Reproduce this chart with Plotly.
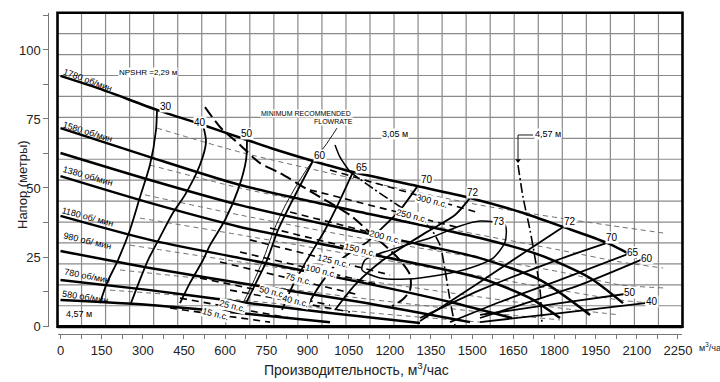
import plotly.graph_objects as go

# ---------------- data: flow (m3/h) and head (m) ----------------
# pump head curves (speeds)
q_1780 = [0, 143.9, 351.6, 519.3, 679.6, 799.9, 920.1, 1065.9, 1299.1, 1492.3, 1674.5, 1831.2, 1991.6, 2100.9]
h_1780 = [90.6, 85.9, 78.3, 72.8, 67.4, 63.4, 59.8, 55.8, 50.7, 46.4, 41.3, 35.9, 30.1, 24.6]
q_1580 = [0, 326.1, 654.1, 1091.4, 1528.6, 1747.2, 1929.4, 2049.7]
h_1580 = [71.7, 61.2, 51.1, 41.3, 31.9, 25.7, 17.4, 8.3]
q_1480 = [0, 326.1, 654.1, 1091.4, 1528.6, 1747.2, 1929.4]
h_1480 = [62.7, 52.9, 43.8, 34.1, 24.6, 16.7, 4.0]
q_1380 = [0, 326.1, 654.1, 1091.4, 1528.6, 1710.8, 1820.1]
h_1380 = [54.3, 44.6, 35.9, 26.8, 17.4, 10.1, 2.9]
q_1180 = [0, 326.1, 654.1, 1091.4, 1419.3, 1645.2]
h_1180 = [39.9, 31.2, 24.6, 15.9, 8.7, 2.9]
q_980 = [0, 326.1, 654.1, 1091.4, 1492.3]
h_980 = [27.2, 21.0, 15.6, 8.7, 1.4]
q_780 = [0, 326.1, 654.1, 982.1, 1310.1]
h_780 = [16.7, 13.0, 8.7, 4.7, 1.1]
q_580 = [0, 326.1, 654.1, 982.1]
h_580 = [9.4, 7.6, 4.7, 1.4]

speed_labels = ["1780 об/мин", "1580 об/мин", "1380 об/мин", "1180 об/ мин",
                "980 об/ мин", "780 об/мин", "580 об/мин", "4,57 м"]
speed_lab_q = [98, 100, 100, 100, 100, 97, 89, 67]
speed_lab_h = [89.1, 70.3, 54.2, 39.5, 30.8, 18.1, 10.5, 4.3]
speed_lab_ang = [20, 17, 16, 15, 13, 11, 9, 0]

# efficiency curves, left branches (label at top end)
eff_left_names = ["30", "40", "50", "60", "65", "70", "72"]
eff_left_q = [
    [351.6, 348.0, 326.1, 289.7, 253.2, 209.5, 169.4, 143.9],
    [519.3, 530.2, 508.3, 453.7, 410.0, 362.6, 318.9, 286.1, 256.9],
    [679.6, 676.0, 646.8, 599.5, 544.8, 519.3, 471.9, 435.5],
    [920.1, 883.7, 836.3, 792.6, 752.5, 708.8, 672.3],
    [1065.9, 1018.5, 963.8, 898.3, 847.3, 807.2],
    [1299.1, 1237.1, 1164.3, 1116.9, 1018.5, 945.6, 890.9],
    [1492.3, 1437.6, 1335.6, 1175.2, 1073.2, 1000.3],
]
eff_left_h = [
    [78.3, 71.0, 58.4, 46.7, 34.8, 23.9, 15.6, 8.3],
    [72.8, 66.7, 58.4, 47.5, 41.0, 32.2, 23.9, 15.9, 8.3],
    [67.4, 60.1, 49.3, 38.4, 29.3, 23.9, 15.6, 8.3],
    [59.8, 52.9, 43.8, 34.8, 23.9, 14.9, 7.6],
    [55.8, 45.6, 34.8, 23.9, 14.9, 5.8],
    [50.4, 42.0, 34.8, 30.4, 23.9, 14.9, 5.8],
    [46.4, 40.2, 34.1, 23.9, 14.9, 5.8],
]
eff_left_lab_q = [384.4, 508.3, 679.6, 945.6, 1098.7, 1335.6, 1503.2]
eff_left_lab_h = [79.7, 73.9, 69.9, 61.6, 57.6, 52.9, 48.5]

# efficiency curves, right branches
eff_right_names = ["72", "70", "65", "60", "50", "40"]
eff_right_q = [
    [1831.2, 1648.9, 1528.6, 1382.9, 1310.1],
    [1991.6, 1809.4, 1528.6, 1310.1],
    [2086.4, 1820.1, 1601.4, 1419.3],
    [2130.1, 1893.3, 1674.5, 1528.6],
    [2057.4, 1820.1, 1528.6],
    [2130.1, 1820.1, 1528.6],
]
eff_right_h = [
    [35.9, 23.9, 15.9, 6.5, 1.8],
    [30.1, 23.9, 13.0, 2.9],
    [26.8, 16.7, 8.7, 1.4],
    [24.6, 14.9, 7.6, 2.9],
    [11.6, 8.3, 4.0],
    [8.3, 4.7, 1.4],
]
eff_right_lab_q = [1856.6, 2009.7, 2086.4, 2137.4, 2075.4, 2155.6]
eff_right_lab_h = [38.0, 32.2, 26.8, 24.6, 12.3, 8.7]

# 73 % island
q_73 = [1528.6, 1619.8, 1619.8, 1576.0, 1492.3, 1382.9, 1262.7, 1164.3, 1098.7, 1109.6, 1200.7, 1346.4, 1455.7, 1528.6]
h_73 = [38.0, 36.6, 30.4, 24.6, 21.0, 18.5, 17.0, 17.4, 20.3, 23.9, 27.5, 31.9, 36.2, 38.0]
lab73_q, lab73_h = 1597.8, 37.7

# brake horse power lines
power_labels = ["300 п.с.", "250 п.с.", "200 п.с.", "150 п.с.", "125 п.с.", "100 п.с.",
                "75 п.с.", "50 п.с.", "40 п.с.", "25 п.с.", "15 п.с."]
power_lab_q = [1353.7, 1280.9, 1182.5, 1091.4, 993.0, 949.3, 865.5, 770.7, 854.5, 625.0, 563.0]
power_lab_h = [45.3, 39.9, 32.2, 27.5, 23.5, 19.9, 17.0, 12.3, 9.1, 7.2, 4.3]
power_q0 = [982.1, 909.2, 836.3, 763.4, 690.6, 654.1, 581.2, 508.3, 618.1, 435.5, 399.0]
power_h0 = [56.5, 49.3, 41.3, 35.5, 31.2, 26.8, 23.2, 17.4, 13.0, 10.1, 6.5]
power_q1 = [1528.6, 1455.7, 1382.9, 1310.1, 1200.7, 1164.3, 1091.4, 982.1, 1054.9, 836.3, 763.4]
power_h1 = [40.9, 35.5, 27.5, 22.1, 18.5, 14.9, 11.2, 7.6, 5.1, 2.9, 1.4]

# thin grey dashed curves
grey_q = [
    [351.6, 654.1, 1091.4, 1528.6, 1820.1, 2039.1, 2195.8],
    [326.1, 654.1, 1091.4, 1528.6, 1820.1, 2039.1, 2195.8],
    [307.9, 654.1, 1091.4, 1528.6, 1820.1, 2039.1, 2195.8],
    [289.7, 654.1, 1091.4, 1528.6, 1820.1, 2039.1, 2148.4],
    [253.2, 654.1, 1091.4, 1528.6, 1820.1, 2039.1],
    [216.8, 654.1, 1091.4, 1528.6, 1820.1],
    [180.4, 654.1, 1091.4, 1528.6],
]
grey_h = [
    [71.7, 63.0, 52.9, 43.8, 39.1, 35.9, 33.7],
    [58.3, 50.0, 41.3, 33.0, 27.5, 23.2, 21.0],
    [47.5, 40.2, 31.9, 24.6, 19.6, 14.9, 13.8],
    [39.1, 33.0, 25.4, 18.1, 13.0, 9.4, 8.3],
    [29.3, 23.2, 16.7, 10.5, 6.5, 4.0],
    [20.3, 15.6, 10.1, 5.1, 2.2],
    [13.0, 9.4, 5.1, 1.4],
]

# NPSHR lines and minimum flow line
npshr229_q = [526.5, 581.2, 654.1, 727.0, 799.9, 920.1, 1054.9, 1116.9, 1226.3, 1273.6, 1273.6, 1244.5, 1208.0]
npshr229_h = [79.3, 72.1, 65.6, 59.0, 55.4, 48.2, 40.2, 34.8, 25.0, 18.5, 13.0, 9.4, 7.2]
npshr305_hook_q = [1000.3, 1018.5, 1055.0]
npshr305_hook_h = [65.6, 61.2, 55.8]
npshr305_q = [1055.0, 1146.1, 1255.4, 1346.4, 1382.9, 1401.1, 1419.3, 1437.6]
npshr305_h = [55.8, 49.3, 42.0, 35.5, 29.3, 20.3, 9.4, 0.0]
npshr457_q = [1667.1, 1685.3, 1710.8, 1729.1, 1747.3, 1754.6]
npshr457_h = [58.3, 46.7, 34.8, 24.6, 13.0, 0.0]
minflow_q = [1007.6, 963.8, 912.8, 865.4, 818.0, 777.9, 737.8, 697.7, 661.3]
minflow_h = [71.7, 65.2, 59.0, 51.8, 43.5, 34.8, 23.9, 14.9, 7.6]

# ---------------- figure ----------------
fig = go.Figure()
FAM = "Liberation Sans, Arial, sans-serif"


def line(q, h, width=2.5, dash="solid", color="black", smooth=True):
    fig.add_trace(go.Scatter(
        x=q, y=h, mode="lines", hoverinfo="skip", showlegend=False,
        line=dict(color=color, width=width, dash=dash,
                  shape="spline" if smooth else "linear", smoothing=0.7)))


for q, h in zip(grey_q, grey_h):
    line(q, h, 1.0, "5px,4px", "#6e6e6e")

for q, h in [(q_1780, h_1780), (q_1580, h_1580), (q_1480, h_1480), (q_1380, h_1380),
             (q_1180, h_1180), (q_980, h_980), (q_780, h_780), (q_580, h_580)]:
    line(q, h, 2.5)

for q, h in zip(eff_left_q, eff_left_h):
    line(q, h, 1.8)
for q, h in zip(eff_right_q, eff_right_h):
    line(q, h, 1.8)
line(q_73, h_73, 1.5)

for q0, h0, q1, h1 in zip(power_q0, power_h0, power_q1, power_h1):
    line([q0, q1], [h0, h1], 1.6, "7px,5px", smooth=False)

line(npshr229_q, npshr229_h, 2.0, "12px,5px")
line(npshr305_hook_q, npshr305_hook_h, 1.5)
line(npshr305_q, npshr305_h, 1.6, "10px,3px,2px,3px")
line(npshr457_q, npshr457_h, 1.6, "10px,3px,2px,3px")
line(minflow_q, minflow_h, 0.9)
# leader of the 4,57 m label with arrow head
line([npshr457_q[0], npshr457_q[0]], [69.2, 60.5], 0.9, smooth=False)
line([npshr457_q[0], 1721.8], [69.2, 69.2], 0.9, smooth=False)
fig.add_trace(go.Scatter(x=[npshr457_q[0]], y=[60.0], mode="markers", hoverinfo="skip", showlegend=False,
                         marker=dict(symbol="triangle-down", size=5, color="black")))

for t, q, h, a in zip(speed_labels, speed_lab_q, speed_lab_h, speed_lab_ang):
    fig.add_annotation(x=q, y=h, text=t, showarrow=False, textangle=a,
                       font=dict(family=FAM, size=9, color="black"))
effont = dict(family=FAM, size=10, color="black")
for t, q, h in zip(eff_left_names, eff_left_lab_q, eff_left_lab_h):
    fig.add_annotation(x=q, y=h, text=t, showarrow=False, font=effont, bgcolor="white", borderpad=0)
for t, q, h in zip(eff_right_names, eff_right_lab_q, eff_right_lab_h):
    fig.add_annotation(x=q, y=h, text=t, showarrow=False, font=effont, bgcolor="white", borderpad=0)
fig.add_annotation(x=lab73_q, y=lab73_h, text="73", showarrow=False, font=effont, bgcolor="white", borderpad=0)
for t, q, h in zip(power_labels, power_lab_q, power_lab_h):
    fig.add_annotation(x=q, y=h, text=t, showarrow=False, textangle=14, bgcolor="white", borderpad=0,
                       font=dict(family=FAM, size=9, color="black"))

smallfont = dict(family=FAM, size=8, color="black")
fig.add_annotation(x=320, y=92.0, text="NPSHR =2,29 м", showarrow=False, font=smallfont,
                   bgcolor="white", borderpad=0)
fig.add_annotation(x=895, y=77.0, text="MINIMUM RECOMMENDED", showarrow=False, bgcolor="white",
                   borderpad=0, font=dict(family=FAM, size=7, color="black"))
fig.add_annotation(x=993, y=74.0, text="FLOWRATE", showarrow=False, bgcolor="white",
                   borderpad=0, font=dict(family=FAM, size=7, color="black"))
fig.add_annotation(x=1218.9, y=69.4, text="3,05 м", showarrow=False, bgcolor="white", borderpad=0,
                   font=dict(family=FAM, size=9, color="black"))
fig.add_annotation(x=1776.4, y=69.4, text="4,57 м", showarrow=False, bgcolor="white", borderpad=0,
                   font=dict(family=FAM, size=9, color="black"))

shapes = []
for i in range(1, 26):
    shapes.append(dict(type="line", xref="x domain", yref="y domain", x0=i / 26, x1=i / 26, y0=0, y1=1,
                       line=dict(color="#8a8a8a", width=1.2), layer="below"))
for j in range(1, 15):
    shapes.append(dict(type="line", xref="x domain", yref="y domain", x0=0, x1=1, y0=j / 15, y1=j / 15,
                       line=dict(color="#8a8a8a", width=1.2), layer="below"))
shapes.append(dict(type="rect", xref="x domain", yref="y domain", x0=0, x1=1, y0=0, y1=1,
                   line=dict(color="black", width=2.6)))
shapes.append(dict(type="line", xref="x domain", yref="y domain", x0=0, x1=1, y0=0, y1=0,
                   line=dict(color="black", width=3.2)))
fig.update_layout(shapes=shapes)

tickfont = dict(family=FAM, size=13, color="#222")
fig.update_layout(
    width=720, height=382, margin=dict(l=20, r=20, t=10, b=10, autoexpand=False),
    paper_bgcolor="white", plot_bgcolor="white",
    xaxis=dict(domain=[0.05515, 0.97426], range=[-10.9, 2266.4], anchor="free", position=0.1050,
               automargin=False,
               showgrid=False, zeroline=False, showline=True, linecolor="#777", linewidth=1,
               ticks="outside", ticklen=4, tickcolor="#777", dtick=150, tick0=0,
               minor=dict(dtick=75, ticks="outside", ticklen=4, tickcolor="#777", showgrid=False),
               tickfont=tickfont),
    yaxis=dict(domain=[0.12514, 0.99254], range=[-0.25, 113.5], anchor="free", position=0.0416,
               automargin=False,
               showgrid=False, zeroline=False, showline=True, linecolor="#777", linewidth=1,
               ticks="outside", ticklen=5, tickcolor="#777", dtick=25, tick0=0,
               minor=dict(dtick=12.5, ticks="outside", ticklen=5, tickcolor="#777", showgrid=False),
               tickfont=tickfont),
)
fig.add_annotation(xref="paper", yref="paper", x=(356 - 20) / 680, y=(372 - 369) / 362,
                   xanchor="center", yanchor="middle",
                   text="Производительность, м<sup>3</sup>/час", showarrow=False,
                   font=dict(family=FAM, size=14, color="#222"))
fig.add_annotation(xref="paper", yref="paper", x=(22 - 20) / 680, y=(372 - 185) / 362,
                   xanchor="center", yanchor="middle",
                   text="Напор (метры)", textangle=-90, showarrow=False,
                   font=dict(family=FAM, size=13, color="#222"))
fig.add_annotation(xref="paper", yref="paper", x=(697 - 20) / 680, y=(372 - 347) / 362,
                   xanchor="left", yanchor="middle",
                   text="м<sup>3</sup>/час", showarrow=False,
                   font=dict(family=FAM, size=9, color="#222"))

fig.write_html("out.html", config={"displayModeBar": False, "staticPlot": True},
               post_script="document.body.style.margin='0px';document.body.style.overflow='hidden';")
